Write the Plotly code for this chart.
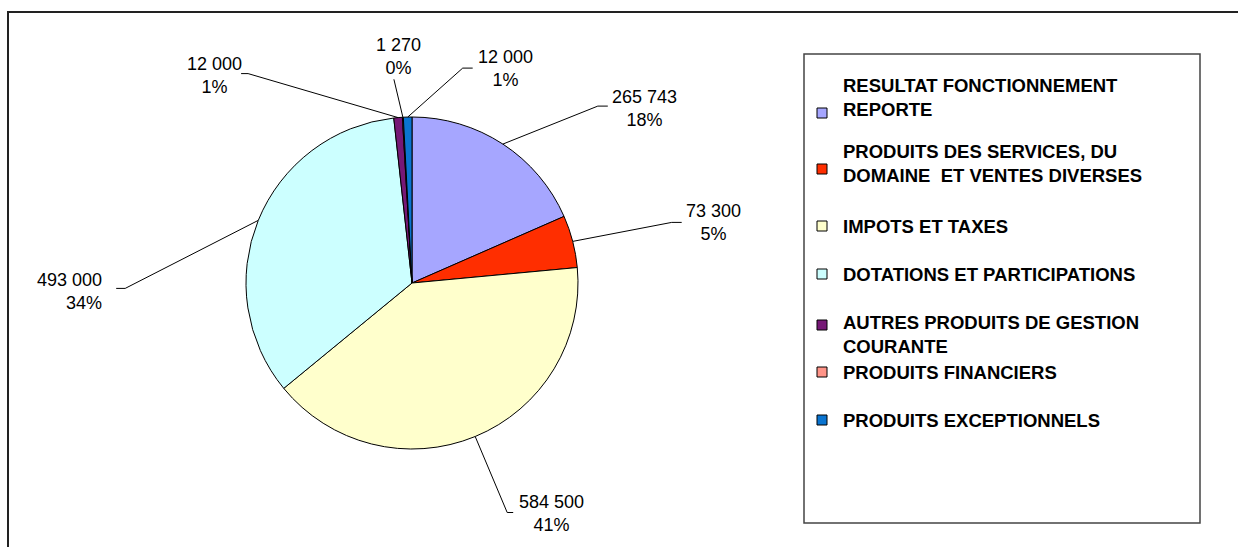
import math
import plotly.graph_objects as go

# ---------------- data ----------------
categories = [
    "RESULTAT FONCTIONNEMENT REPORTE",
    "PRODUITS DES SERVICES, DU DOMAINE  ET VENTES DIVERSES",
    "IMPOTS ET TAXES",
    "DOTATIONS ET PARTICIPATIONS",
    "AUTRES PRODUITS DE GESTION COURANTE",
    "PRODUITS FINANCIERS",
    "PRODUITS EXCEPTIONNELS",
]
legend_text = [
    "RESULTAT FONCTIONNEMENT<br>REPORTE",
    "PRODUITS DES SERVICES, DU<br>DOMAINE\u00a0 ET VENTES DIVERSES",
    "IMPOTS ET TAXES",
    "DOTATIONS ET PARTICIPATIONS",
    "AUTRES PRODUITS DE GESTION<br>COURANTE",
    "PRODUITS FINANCIERS",
    "PRODUITS EXCEPTIONNELS",
]
values = [265743, 73300, 584500, 493000, 12000, 1270, 12000]
colors = ["#A6A6FF", "#FF2E00", "#FFFFCC", "#CCFFFF", "#761876", "#FF9488", "#0A74D0"]

# ---------------- layout constants (pixels) ----------------
W, H = 1238, 547
CX, CY, R = 412, 283, 166
FONT = "Arial, 'Liberation Sans', sans-serif"

# leader-line geometry per slice: elbow offset from edge point, tail length,
# text anchor offset from tail end, anchors and alignment
label_layout = [
    dict(elbow=(95, -38), tail=10, tdx=2, tdy=2, xa="left", ya="middle", al="center"),
    dict(elbow=(99, -19), tail=10, tdx=2, tdy=0, xa="left", ya="middle", al="center"),
    dict(elbow=(32, 76), tail=6, tdx=4, tdy=1, xa="left", ya="middle", al="center"),
    dict(elbow=(-133, 68), tail=-9, tdx=-12, tdy=3, xa="right", ya="middle", al="right"),
    dict(elbow=(-150, -44), tail=-7, tdx=3, tdy=2, xa="right", ya="middle", al="center"),
    dict(elbow=(-9, -38), tail=0, tdx=5, tdy=1, xa="center", ya="bottom", al="center"),
    dict(elbow=(55, -49), tail=10, tdx=3, tdy=0, xa="left", ya="middle", al="center"),
]
legend_text_y = [97, 163, 226, 274, 334, 372, 420]
legend_marker_y = [113, 169, 226, 274, 325, 372, 420]

total = sum(values)

fig = go.Figure()

# pixel coordinate system spanning the whole figure
fig.add_trace(go.Scatter(x=[0, W], y=[0, H], mode="markers",
                         marker=dict(opacity=0), hoverinfo="skip", showlegend=False))

fig.add_trace(go.Pie(
    labels=categories,
    values=values,
    sort=False,
    direction="clockwise",
    rotation=0,
    marker=dict(colors=colors, line=dict(color="#000000", width=1)),
    textinfo="none",
    showlegend=False,
    domain=dict(x=[(CX - R) / W, (CX + R) / W], y=[1 - (CY + R) / H, 1 - (CY - R) / H]),
))

shapes = []
annotations = []

# outer chart border
shapes.append(dict(type="rect", xref="x", yref="y", x0=8, y0=12, x1=W + 20, y1=H + 20,
                   line=dict(color="#222222", width=2), layer="below"))

# data labels with leader lines
cum = 0.0
for v, lay in zip(values, label_layout):
    mid = (cum + v / 2) / total * 2 * math.pi
    cum += v
    ex = CX + R * math.sin(mid)
    ey = CY - R * math.cos(mid)
    bx = ex + lay["elbow"][0]
    by = ey + lay["elbow"][1]
    tx = bx + lay["tail"]
    path = f"M {ex:.1f},{ey:.1f} L {bx:.1f},{by:.1f} L {tx:.1f},{by:.1f}"
    shapes.append(dict(type="path", xref="x", yref="y", path=path,
                       line=dict(color="#000000", width=1)))
    pct = round(v / total * 100)
    txt = f"{v:,}".replace(",", " ") + f"<br>{pct}%"
    annotations.append(dict(
        x=tx + lay["tdx"], y=by + lay["tdy"], xref="x", yref="y",
        text=txt, showarrow=False, xanchor=lay["xa"], yanchor=lay["ya"],
        align=lay["al"], font=dict(family=FONT, size=18, color="#000000"),
    ))

# legend box
shapes.append(dict(type="rect", xref="x", yref="y", x0=804, y0=54, x1=1200, y1=523,
                   line=dict(color="#444444", width=1.5)))
for lt, c, ty, my in zip(legend_text, colors, legend_text_y, legend_marker_y):
    shapes.append(dict(type="rect", xref="x", yref="y", x0=817, y0=my - 5, x1=827, y1=my + 5,
                       fillcolor=c, line=dict(color="#000000", width=1)))
    annotations.append(dict(
        x=841, y=ty, xref="x", yref="y", text=lt, showarrow=False,
        xanchor="left", yanchor="middle", align="left",
        font=dict(family=FONT, size=18.5, color="#000000", weight="bold"),
    ))

fig.update_layout(
    width=W, height=H,
    margin=dict(l=0, r=0, t=0, b=0),
    paper_bgcolor="#FFFFFF", plot_bgcolor="#FFFFFF",
    xaxis=dict(range=[0, W], visible=False, fixedrange=True),
    yaxis=dict(range=[H, 0], visible=False, fixedrange=True),
    shapes=shapes,
    annotations=annotations,
    showlegend=False,
)

fig.write_html("out.html",
               config={"displayModeBar": False},
               post_script="document.body.style.margin='0';document.body.style.overflow='hidden';")
